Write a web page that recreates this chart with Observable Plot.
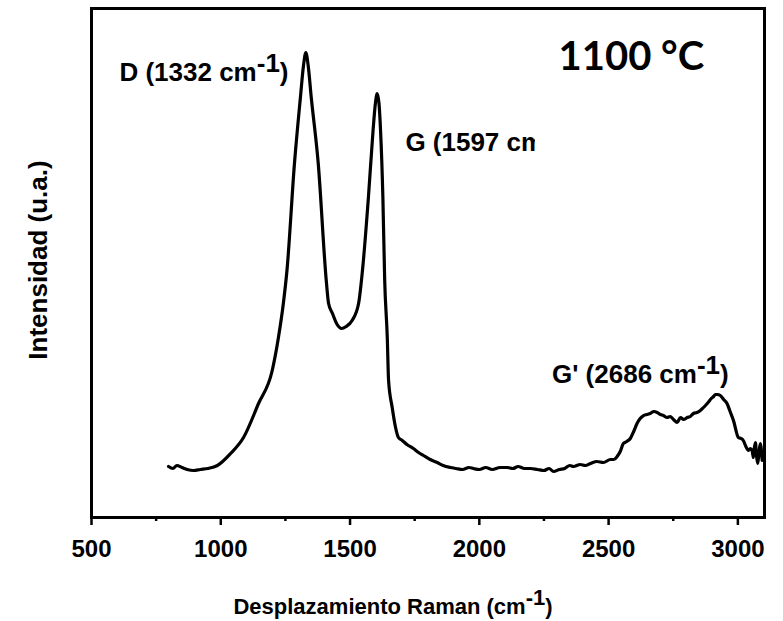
<!DOCTYPE html>
<html><head><meta charset="utf-8">
<script src="https://cdn.jsdelivr.net/npm/d3@7"></script>
<script src="https://cdn.jsdelivr.net/npm/@observablehq/plot@0.6"></script>
<style>body{margin:0;background:#fff;} #chart svg{display:block}</style>
</head><body><div id="chart"></div>
<script>
// Raman shift (cm^-1) and intensity (a.u.)
const wavenumber = [798, 815, 830, 850, 870, 895, 921, 950, 987, 1038, 1088, 1146, 1199, 1223, 1242, 1256, 1285, 1308, 1320, 1329, 1338, 1350, 1377, 1408, 1417, 1432, 1450, 1467, 1485, 1508, 1533, 1548, 1571, 1589, 1598, 1605, 1612, 1618, 1627, 1634, 1644, 1649, 1663, 1676, 1687, 1702, 1720, 1745, 1765, 1784, 1810, 1837, 1860, 1888, 1910, 1935, 1960, 1977, 2000, 2025, 2050, 2080, 2108, 2130, 2150, 2175, 2198, 2225, 2250, 2270, 2287, 2310, 2330, 2350, 2364, 2390, 2410, 2430, 2455, 2480, 2507, 2520, 2533, 2545, 2557, 2570, 2584, 2597, 2610, 2622, 2635, 2648, 2661, 2675, 2688, 2700, 2712, 2726, 2738, 2751, 2765, 2778, 2790, 2804, 2816, 2828, 2842, 2855, 2867, 2878, 2888, 2897, 2906, 2913, 2920, 2932, 2945, 2958, 2970, 2983, 3002, 3012, 3021, 3031, 3041, 3048, 3055, 3060, 3064, 3068, 3072, 3077, 3082, 3087, 3094];
const intensity  = [51, 49, 52, 50, 48, 47, 48, 49, 52, 64, 80, 114, 147, 180, 214, 247, 354, 420, 452, 465, 452, 420, 354, 237, 214, 204, 193, 189, 191, 197, 214, 247, 320, 387, 414, 424, 414, 387, 320, 237, 180, 137, 110, 90, 80, 77, 73, 69, 65, 62, 58, 55, 52, 50, 49, 48, 50, 49, 48, 50, 48, 50, 50, 49, 51, 49, 49, 48, 47, 49, 46, 48, 49, 52, 51, 53, 52, 54, 56, 55, 58, 58, 61, 66, 74, 76, 79, 86, 94, 99, 102, 103, 104, 106, 105, 103, 102, 100, 101, 98, 95, 100, 98, 100, 101, 104, 105, 107, 110, 113, 116, 119, 121, 123, 123, 122, 118, 114, 106, 97, 80, 79, 77, 71, 67, 69, 67, 60, 70, 75, 62, 54, 66, 74, 57];

const majorTicks = [500, 1000, 1500, 2000, 2500, 3000];
const minorTicks = [750, 1250, 1750, 2250, 2750];

const peakLabels = ["D (1332 cm^-1)", "G (1597 cm", "G' (2686 cm^-1)"];
const peakLabelX = [608, 1714, 2281];
const peakLabelY = [437, 367, 135];

const tempLabel = ["1100 °C"];
const tempLabelX = [2588];
const tempLabelY = [444];

// white patch that hides the end of the G label in the original figure
const maskX1 = [2217], maskX2 = [2395], maskY1 = [357], maskY2 = [398];

const xTitle = "Desplazamiento Raman (cm^-1)";
const yTitle = "Intensidad (u.a.)";

const spectrum = wavenumber.map((x, i) => ({x, y: intensity[i]}));

const chart = Plot.plot({
  width: 783, height: 621,
  marginLeft: 91, marginRight: 19, marginTop: 8, marginBottom: 104,
  x: {domain: [500, 3103], label: null},
  y: {domain: [0, 509], axis: null, label: null},
  style: {fontFamily: "'Liberation Sans', Arial, sans-serif", background: "#fff", color: "#000"},
  marks: [
    Plot.line(spectrum, {x: "x", y: "y", stroke: "#000", strokeWidth: 3.2, curve: "monotone-x", strokeLinejoin: "round", strokeLinecap: "round"}),
    Plot.axisX({ticks: majorTicks, tickSize: 8, tickPadding: 14, tickFormat: d => String(d), fontSize: 24, fontWeight: "bold", strokeWidth: 2.5, label: null}),
    Plot.axisX({ticks: minorTicks, tickSize: 4, tickFormat: () => "", strokeWidth: 2.5, label: null}),
    Plot.frame({stroke: "#000", strokeWidth: 3}),
    Plot.text(peakLabels, {x: peakLabelX, y: peakLabelY, text: d => d, textAnchor: "start", lineAnchor: "bottom", fontSize: 26, fontWeight: "bold", fill: "#000"}),
    Plot.rect([0], {x1: maskX1, x2: maskX2, y1: maskY1, y2: maskY2, fill: "#fff"}),
    Plot.text(tempLabel, {x: tempLabelX, y: tempLabelY, text: d => d, dy: -4, textAnchor: "middle", lineAnchor: "bottom", fontSize: 40, fontWeight: "bold", fontFamily: "Lato, 'Open Sans', sans-serif", fill: "#000"}),
    Plot.text([xTitle], {frameAnchor: "bottom", text: d => d, dy: 96, dx: -35, lineAnchor: "bottom", textAnchor: "middle", fontSize: 22, fontWeight: "bold", fill: "#000"}),
    Plot.text([yTitle], {frameAnchor: "left", text: d => d, rotate: -90, dx: -53, dy: -3, lineAnchor: "middle", textAnchor: "middle", fontSize: 26, fontWeight: "bold", fill: "#000"})
  ]
});

// superscript "-1"
const NS = "http://www.w3.org/2000/svg";
chart.querySelectorAll("text").forEach(t => {
  if (t.children.length) return;
  const s = t.textContent;
  const i = s.indexOf("^-1");
  if (i < 0) return;
  t.textContent = "";
  t.append(s.slice(0, i));
  const sup = document.createElementNS(NS, "tspan");
  sup.setAttribute("dy", "-9");
  sup.textContent = "-1";
  t.append(sup);
  const rest = document.createElementNS(NS, "tspan");
  rest.setAttribute("dy", "9");
  rest.textContent = s.slice(i + 3);
  t.append(rest);
});

document.getElementById("chart").append(chart);
</script>
</body></html>
